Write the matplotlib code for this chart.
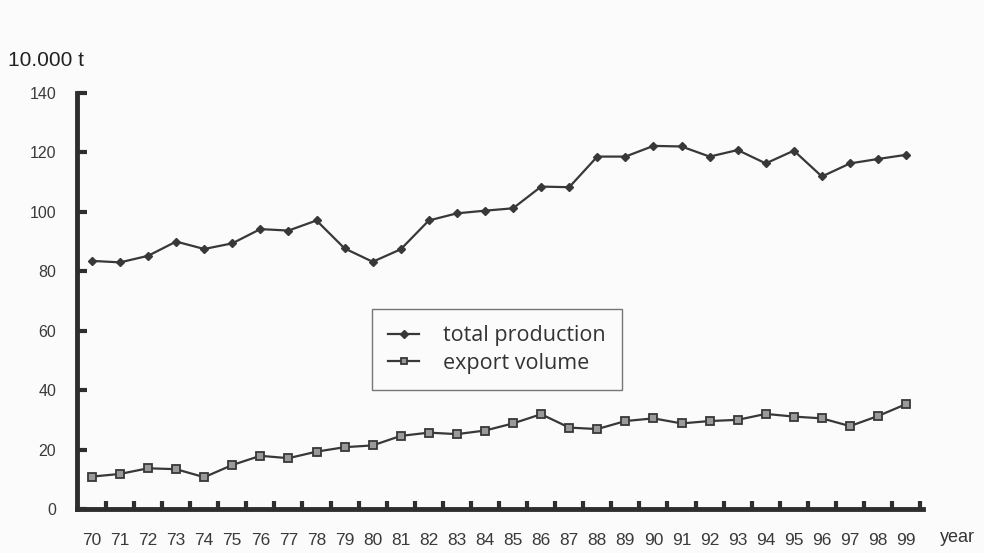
import matplotlib.pyplot as plt
import numpy as np

years = np.arange(70, 100)
total_production = [83.5, 83.0, 85.2, 90.0, 87.5, 89.4, 94.2, 93.7, 97.1, 87.7,
                    83.2, 87.4, 97.1, 99.5, 100.4, 101.2, 108.5, 108.3, 118.6, 118.6,
                    122.2, 122.0, 118.6, 120.8, 116.3, 120.6, 111.9, 116.3, 117.8, 119.2]
export_volume = [10.9, 11.8, 13.7, 13.4, 10.7, 14.8, 17.9, 17.1, 19.3, 20.8,
                 21.4, 24.6, 25.7, 25.2, 26.4, 28.8, 31.9, 27.4, 26.9, 29.6,
                 30.5, 28.8, 29.6, 30.0, 32.0, 31.1, 30.5, 27.9, 31.3, 35.3]
y_ticks = [0, 20, 40, 60, 80, 100, 120, 140]

ink = '#383838'
fig = plt.figure(figsize=(9.84, 5.53), dpi=100, facecolor='#fbfbfb')
ax = fig.add_axes([77/984, 1-509/553, (923-77)/984, (509-93)/553])
ax.set_facecolor('#fbfbfb')

ax.plot(years, total_production, color=ink, lw=1.6, marker='D', ms=4.5,
        mfc=ink, mec=ink, label='total production')
ax.plot(years, export_volume, color=ink, lw=1.6, marker='s', ms=6,
        mfc='#9a9a9a', mec=ink, mew=1.3, label='export volume')

ax.set_xlim(69.47, 99.6)
ax.set_ylim(0, 140)

for side in ['top', 'right']:
    ax.spines[side].set_visible(False)
for side in ['left', 'bottom']:
    ax.spines[side].set_linewidth(3.5)
    ax.spines[side].set_color('#2e2e2e')

# year labels at integers, tick marks between years
ax.set_xticks(years)
ax.set_xticklabels([str(y) for y in years])
ax.set_xticks(np.arange(70.5, 100, 1), minor=True)
ax.tick_params(axis='x', which='major', length=0, pad=17, labelsize=12.5, labelcolor='#3a3a3a')
ax.tick_params(axis='x', which='minor', direction='in', length=6, width=3, color='#2e2e2e')
ax.set_yticks(y_ticks)
ax.tick_params(axis='y', direction='in', length=7, width=3, color='#2e2e2e',
               pad=15, labelsize=11.5, labelcolor='#3a3a3a')
for lab in ax.get_xticklabels() + ax.get_yticklabels():
    lab.set_family('Liberation Sans')

fig.text(8/984, 1-60/553, '10.000 t', fontsize=15, family='Liberation Sans',
         color='#222222', va='center', ha='left')
fig.text(940/984, 1-537/553, 'year', fontsize=13, family='Liberation Sans',
         color='#333333', va='center', ha='left')

leg = fig.legend(loc='upper left', bbox_to_anchor=(372/984, 1-309/553),
                 frameon=True, fancybox=False, edgecolor='#555555',
                 prop={'family': 'Open Sans', 'size': 15.5}, handlelength=1.45,
                 borderpad=0.75, labelspacing=0.3, handletextpad=1.1,
                 borderaxespad=0, markerscale=0.8)
leg.get_frame().set_linewidth(1.0)
leg.get_frame().set_facecolor('#fbfbfb')
for t in leg.get_texts():
    t.set_color('#333333')

fig.savefig('out.png', dpi=100, facecolor=fig.get_facecolor())
